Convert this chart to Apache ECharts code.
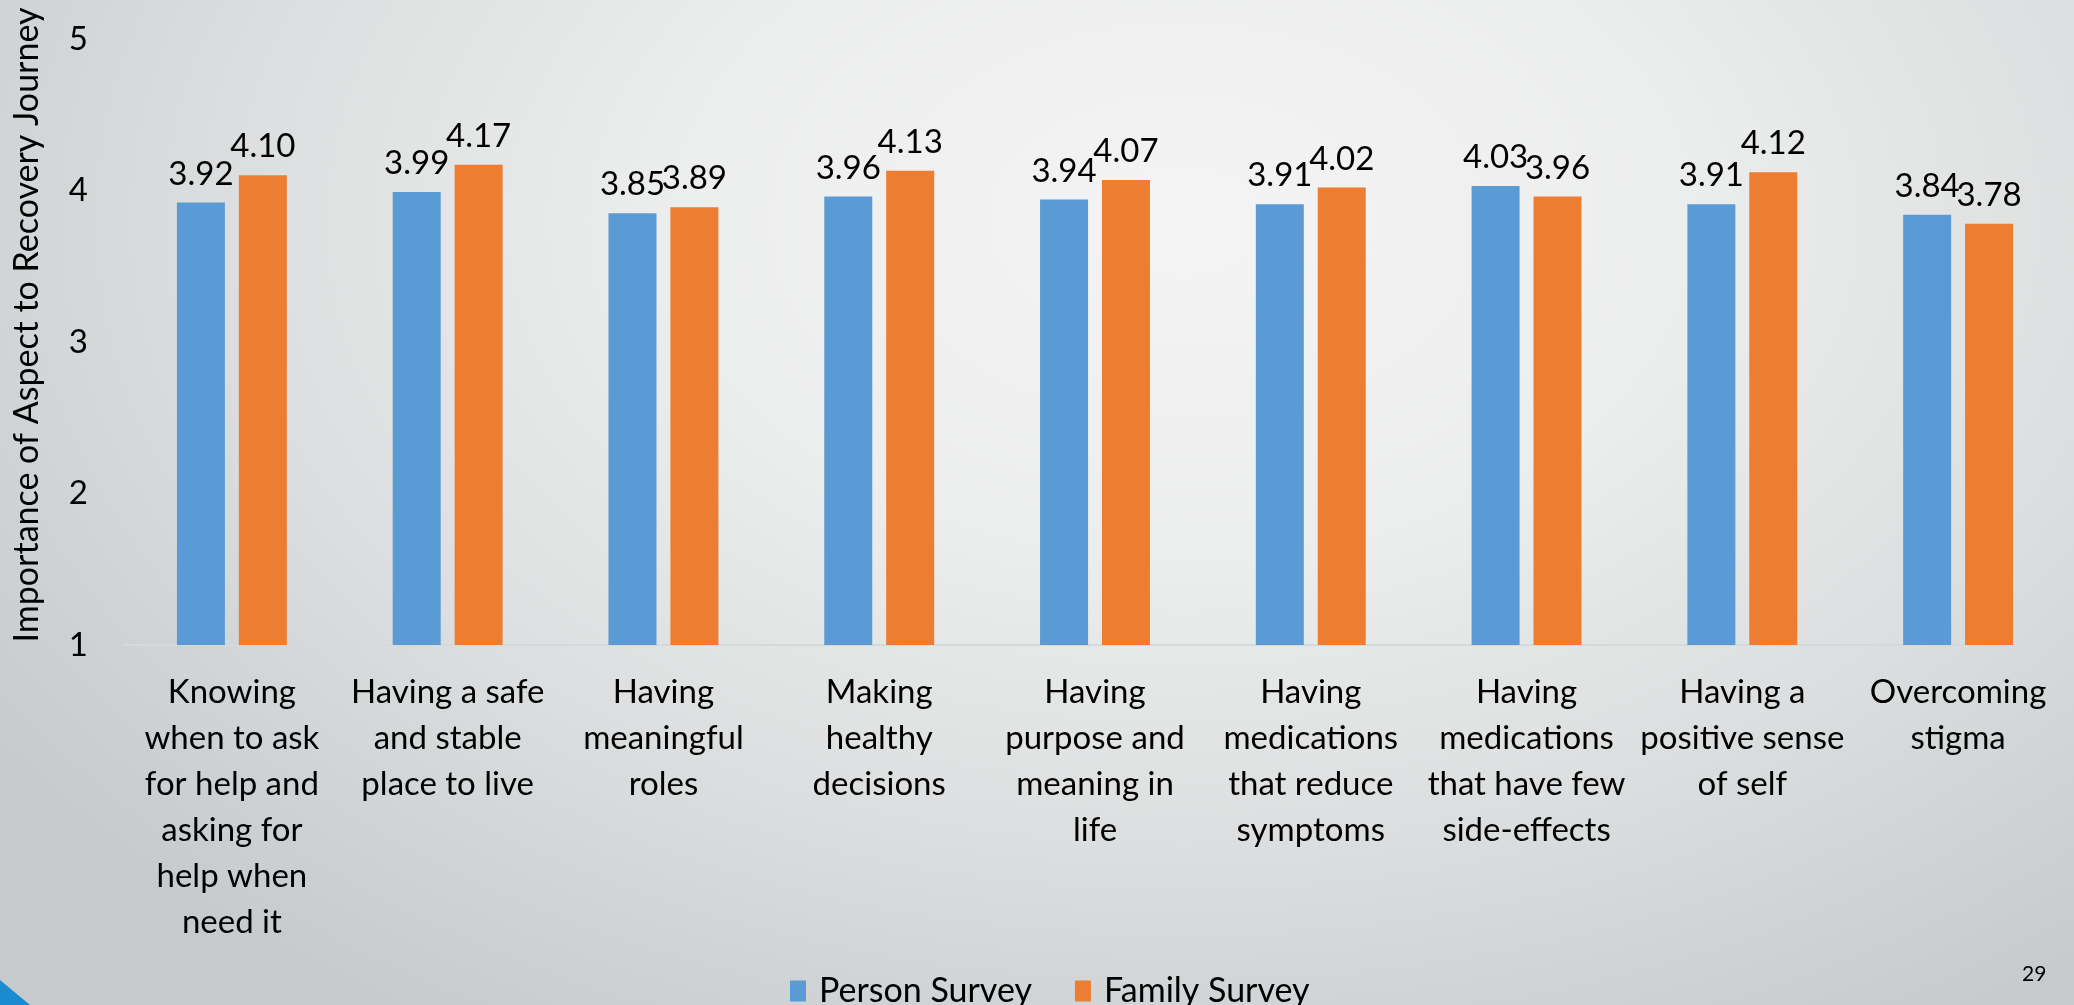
<!DOCTYPE html>
<html>
<head>
<meta charset="utf-8">
<title>Importance of Aspect to Recovery Journey</title>
<script src="https://cdn.jsdelivr.net/npm/echarts@6/dist/echarts.min.js"></script>
<style>
  html, body {
    margin: 0;
    padding: 0;
    width: 2074px;
    height: 1005px;
    overflow: hidden;
  }
  body {
    background: radial-gradient(ellipse 70% 95% at 57% 22%, #f4f4f4 0%, #eceded 35%, #dcdedf 65%, #c6cacc 100%);
  }
  #chart {
    width: 2074px;
    height: 1005px;
  }
</style>
</head>
<body>
<div id="chart"></div>
<script>
// categories (line breaks as in the slide)
const categories = [
  'Knowing\nwhen to ask\nfor help and\nasking for\nhelp when\nneed it',
  'Having a safe\nand stable\nplace to live',
  'Having\nmeaningful\nroles',
  'Making\nhealthy\ndecisions',
  'Having\npurpose and\nmeaning in\nlife',
  'Having\nmedications\nthat reduce\nsymptoms',
  'Having\nmedications\nthat have few\nside-effects',
  'Having a\npositive sense\nof self',
  'Overcoming\nstigma'
]
const personSurvey = [3.92, 3.99, 3.85, 3.96, 3.94, 3.91, 4.03, 3.91, 3.84]
const familySurvey = [4.10, 4.17, 3.89, 4.13, 4.07, 4.02, 3.96, 4.12, 3.78]
const seriesNames = ['Person Survey', 'Family Survey']
const yTicks = [1, 2, 3, 4, 5]

const FONT = 'Lato'
const FS = 33
const chart = echarts.init(document.getElementById('chart'))

const labelStyle = {
  show: true,
  position: 'top',
  distance: 12,
  fontFamily: FONT,
  fontSize: FS,
  color: '#000',
  formatter: p => p.value.toFixed(2)
}

chart.setOption({
  backgroundColor: 'transparent',
  textStyle: { fontFamily: FONT },
  animation: false,
  legend: {
    data: seriesNames,
    left: 785,
    bottom: -8,
    icon: 'rect',
    itemWidth: 16,
    itemHeight: 21,
    itemGap: 43,
    textStyle: { fontFamily: FONT, fontSize: 34, color: '#000', padding: [0, 0, 0, 8] }
  },
  grid: {
    left: 124,
    right: 8,
    top: 39,
    bottom: 360
  },
  xAxis: {
    type: 'category',
    data: categories,
    axisTick: { show: false },
    axisLine: { show: true, lineStyle: { color: '#d6d8d9', width: 2 } },
    axisLabel: {
      interval: 0,
      margin: 24,
      fontFamily: FONT,
      fontSize: FS,
      lineHeight: 46,
      color: '#000',
      align: 'center'
    }
  },
  yAxis: {
    type: 'value',
    min: yTicks[0],
    max: yTicks[yTicks.length - 1],
    interval: 1,
    name: 'Importance of Aspect to Recovery Journey',
    nameLocation: 'middle',
    nameGap: 80,
    nameTextStyle: { fontFamily: FONT, fontSize: 34, color: '#000', padding: [0, 0, 0, 34] },
    splitLine: { show: false },
    axisLine: { show: false },
    axisTick: { show: false },
    axisLabel: { fontFamily: FONT, fontSize: FS, color: '#000', margin: 36 }
  },
  series: [
    {
      name: seriesNames[0],
      type: 'bar',
      data: personSurvey,
      barWidth: 48,
      barGap: '29%',
      itemStyle: { color: '#5B9BD5' },
      label: labelStyle
    },
    {
      name: seriesNames[1],
      type: 'bar',
      data: familySurvey,
      barWidth: 48,
      barGap: '29%',
      itemStyle: { color: '#ED7D31' },
      label: labelStyle
    }
  ],
  graphic: [
    // slide decoration in the corner
    {
      type: 'polygon',
      shape: { points: [[0, 980], [30, 1005], [0, 1005]] },
      style: { fill: '#1B8BD0' }
    },
    // slide number
    {
      type: 'text',
      left: 2022,
      top: 964,
      style: { text: '29', fontFamily: FONT, fontSize: 21, fill: '#000' }
    }
  ]
})
</script>
</body>
</html>
